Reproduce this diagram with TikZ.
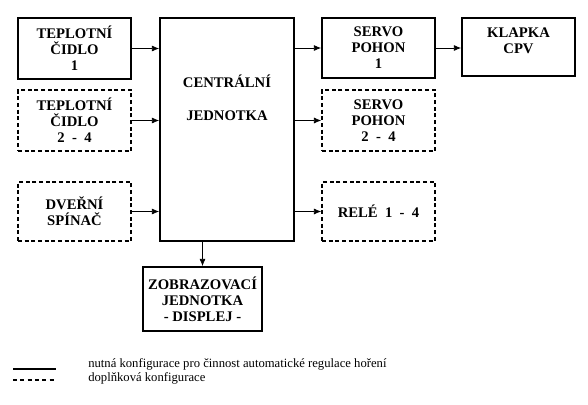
\documentclass[tikz,border=0pt]{standalone}
\usepackage{fontspec}
\setmainfont{Liberation Serif}
\usetikzlibrary{fit,arrows.meta}
\tikzset{
  solidbox/.style={draw, line width=1.2pt, inner sep=0pt},
  dashbox/.style={draw, line width=1.1pt, inner sep=0pt, dash pattern=on 3pt off 2pt},
  lbl/.style={font=\fontsize{11}{12}\selectfont\bfseries, align=center, inner sep=0pt},
  conn/.style={line width=0.6pt, -{Latex[length=5.5pt,width=4.5pt]}},
  legtext/.style={font=\fontsize{9.5}{11}\selectfont, anchor=west, inner sep=0pt}
}
\begin{document}
\begin{tikzpicture}[x=0.75pt,y=-0.75pt]
\useasboundingbox (0,0) rectangle (588,404);
% boxes
\node[solidbox, fit={(18,18)(131,79)}] (t1) {};
\node[dashbox, fit={(18,90)(131,151)}] (t2) {};
\node[dashbox, fit={(18,182)(131,241)}] (dv) {};
\node[solidbox, fit={(160,18)(294,241)}] (cj) {};
\node[solidbox, fit={(322,18)(435,78)}] (s1) {};
\node[solidbox, fit={(462,18)(575,76)}] (kl) {};
\node[dashbox, fit={(322,90)(435,151)}] (s2) {};
\node[dashbox, fit={(322,182)(435,241)}] (re) {};
\node[solidbox, fit={(143,267)(262,331)}] (zj) {};
% texts
\node[lbl] (t1t) at (t1.center) {TEPLOTNÍ\\ČIDLO\\1};
\node[lbl] (t2t) at (t2.center) {TEPLOTNÍ\\ČIDLO\\2\ \ -\ \ 4};
\node[lbl] (dvt) at (dv.center) {DVEŘNÍ\\SPÍNAČ};
\node[lbl, anchor=north] (cjt) at (227,75) {CENTRÁLNÍ\\[12.75pt]JEDNOTKA};
\node[lbl] (s1t) at (s1.center) {SERVO\\POHON\\1};
\node[lbl, anchor=north] (klt) at (518.5,28) {KLAPKA\\CPV};
\node[lbl] (s2t) at (s2.center) {SERVO\\POHON\\2\ \ -\ \ 4};
\node[lbl] (ret) at (re.center) {RELÉ\ \ 1\ \ -\ \ 4};
\node[lbl] (zjt) at (zj.center) {ZOBRAZOVACÍ\\JEDNOTKA\\- DISPLEJ -};
% connectors
\draw[conn] (t1.east) -- (t1.east -| cj.west);
\draw[conn] (t2.east) -- (t2.east -| cj.west);
\draw[conn] (dv.east) -- (dv.east -| cj.west);
\draw[conn] (s1.west -| cj.east) -- (s1.west);
\draw[conn] (s2.west -| cj.east) -- (s2.west);
\draw[conn] (re.west -| cj.east) -- (re.west);
\draw[conn] (s1.east) -- (s1.east -| kl.west);
\draw[conn] (cj.south -| zj.north) -- (zj.north);
% legend
\coordinate (la1) at (13,369);
\coordinate (la2) at (56,369);
\coordinate (lb1) at (13,380);
\coordinate (lb2) at (56,380);
\draw[line width=1.1pt] (la1) -- (la2);
\draw[line width=1.1pt, dash pattern=on 3pt off 2.5pt] (lb1) -- (lb2);
\node[legtext] (lg1) at (88,364) {nutná konfigurace pro činnost\ automatické regulace hoření};
\node[legtext] (lg2) at (88,378) {doplňková konfigurace};
\end{tikzpicture}
\end{document}
